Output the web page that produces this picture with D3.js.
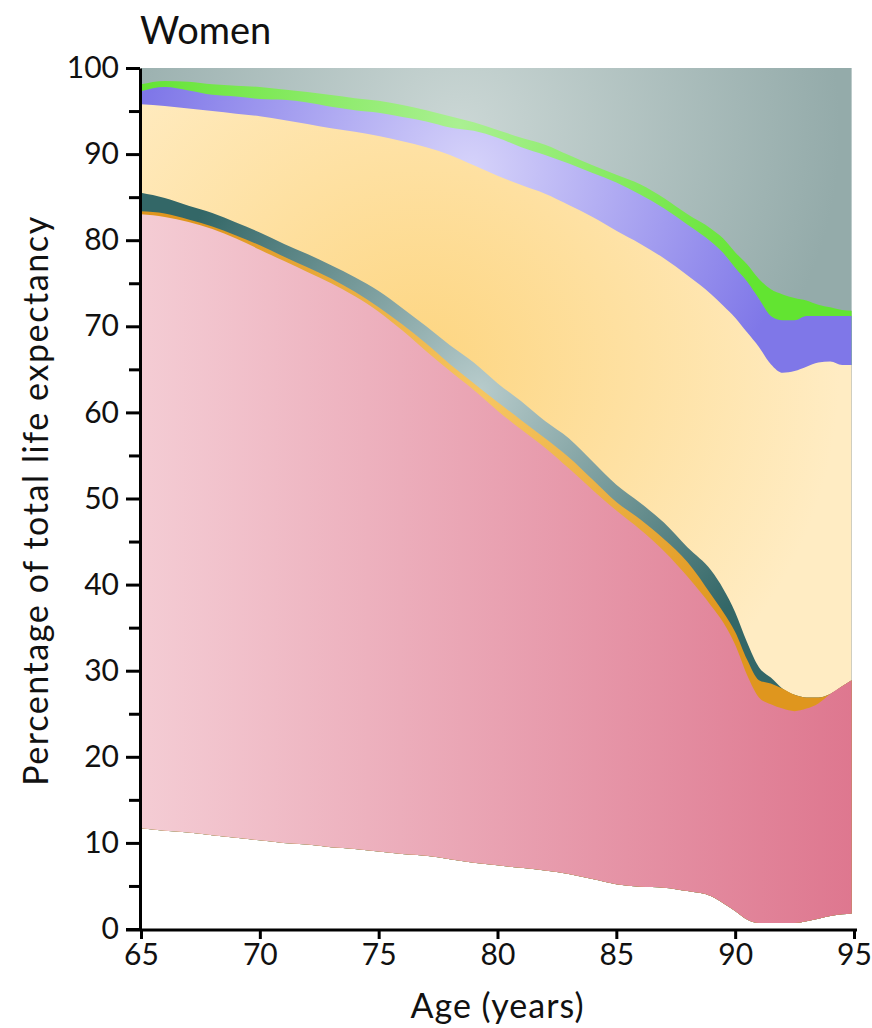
<!DOCTYPE html>
<html>
<head>
<meta charset="utf-8">
<script src="https://cdn.jsdelivr.net/npm/d3@7"></script>
<style>
  body { margin: 0; background: #fff; }
  text { font-family: Lato, "Open Sans", sans-serif; fill: #111; }
</style>
</head>
<body>
<div id="chart"></div>
<script>
// ages sampled along the x axis
const ages = [65, 66, 67, 68, 69, 70, 71, 72, 73, 74, 75, 76, 77, 78, 79, 80, 81, 82, 83, 84, 85, 86, 87, 88, 89,
    89.5, 90, 90.5, 91, 91.5, 92, 92.5, 93, 93.5, 94, 94.5, 94.9];

// cumulative percentage at the top of each band (bottom band first)
const whiteTop = [11.7, 11.4, 11.2, 10.9, 10.6, 10.3, 10.0, 9.8, 9.5, 9.3, 9.0, 8.7, 8.5, 8.1, 7.7, 7.4, 7.1, 6.8, 6.4, 5.8, 5.2, 4.9, 4.8, 4.4, 3.8,
    3.0, 2.1, 1.1, 0.7, 0.7, 0.7, 0.7, 0.9, 1.2, 1.5, 1.7, 1.8];
const pinkTop = [83.0, 82.7, 82.1, 81.3, 80.2, 78.9, 77.6, 76.3, 75.0, 73.5, 71.7, 69.5, 67.1, 64.8, 62.6, 60.2, 58.0, 55.9, 53.5, 51.0, 48.6, 46.4, 43.9, 40.9, 37.5,
    35.6, 33.0, 29.5, 26.9, 26.1, 25.6, 25.3, 25.6, 26.2, 27.3, 28.2, 28.9];
const orangeTop = [83.35, 83.1, 82.4, 81.6, 80.55, 79.4, 78.1, 76.85, 75.55, 74.0, 72.2, 70.2, 68.0, 65.6, 63.4, 61.2, 59.1, 57.0, 54.8, 52.2, 49.6, 47.6, 45.3, 42.6, 38.8,
    36.8, 34.5, 31.3, 28.9, 28.5, 27.9, 27.2, 26.9, 26.9, 27.3, 28.2, 28.9];
const tealTop = [85.5, 84.9, 84.0, 83.15, 82.05, 80.9, 79.6, 78.4, 77.1, 75.7, 74.1, 72.1, 70.0, 67.8, 65.8, 63.4, 61.3, 59.0, 57.0, 54.3, 51.6, 49.5, 47.2, 44.3, 41.6,
    39.5, 36.8, 33.3, 30.4, 29.2, 27.9, 27.2, 26.9, 26.9, 27.3, 28.2, 28.9];
const yellowTop = [95.8, 95.6, 95.3, 95.0, 94.7, 94.4, 93.95, 93.5, 93.0, 92.6, 92.1, 91.5, 90.8, 89.9, 88.7, 87.5, 86.4, 85.4, 84.1, 82.7, 81.1, 79.6, 77.9, 75.9, 73.7,
    72.4, 71.0, 69.3, 67.6, 65.6, 64.6, 64.8, 65.3, 65.8, 65.9, 65.5, 65.5];
const purpleTop = [97.3, 97.8, 97.4, 96.9, 96.7, 96.4, 96.3, 96.0, 95.5, 95.1, 94.8, 94.3, 93.8, 93.1, 92.7, 91.9, 90.8, 89.9, 88.9, 87.8, 86.7, 85.3, 83.7, 81.8, 79.8,
    78.5, 76.8, 75.2, 73.2, 71.2, 70.7, 70.7, 71.2, 71.2, 71.2, 71.2, 71.2];
const greenTop = [98.1, 98.5, 98.4, 98.1, 97.95, 97.8, 97.5, 97.2, 96.85, 96.5, 96.2, 95.7, 95.1, 94.4, 93.7, 92.8, 91.9, 91.1, 89.9, 88.7, 87.6, 86.5, 84.9, 83.0, 81.3,
    80.2, 78.6, 77.2, 75.5, 74.3, 73.7, 73.3, 73.0, 72.5, 72.2, 71.9, 71.8];
const greyTop = [100, 100, 100, 100, 100, 100, 100, 100, 100, 100, 100, 100, 100, 100, 100, 100, 100, 100, 100, 100, 100, 100, 100, 100, 100,
    100, 100, 100, 100, 100, 100, 100, 100, 100, 100, 100, 100];

const xTicks = [65, 70, 75, 80, 85, 90, 95];
const yTicks = [0, 10, 20, 30, 40, 50, 60, 70, 80, 90, 100];
const yMinorTicks = [5, 15, 25, 35, 45, 55, 65, 75, 85, 95];

const width = 872;
const height = 1028;

const svg = d3.select('#chart')
    .append('svg')
    .attr('width', width)
    .attr('height', height);

const x = d3.scaleLinear().domain([65, 95]).range([141, 854]);
const y = d3.scaleLinear().domain([0, 100]).range([929, 68]);

// band fills: radial highlights like the original, pink goes left to right
const defs = svg.append('defs');
function radial(id, cx, cy, r, inner, outer) {
    const g = defs.append('radialGradient')
        .attr('id', id)
        .attr('gradientUnits', 'userSpaceOnUse')
        .attr('cx', cx).attr('cy', cy).attr('r', r);
    g.append('stop').attr('offset', 0).attr('stop-color', inner);
    g.append('stop').attr('offset', 1).attr('stop-color', outer);
}
radial('gGrey', 460, 130, 380, '#cbd7d5', '#94abaa');
radial('gGreen', 460, 125, 330, '#aaf092', '#62e431');
radial('gPurple', 470, 170, 330, '#d6d3fa', '#7f77e8');
radial('gYellow', 420, 370, 420, '#fdd580', '#ffecc3');
radial('gTeal', 480, 390, 330, '#b7cbcb', '#336767');
radial('gOrange', 480, 400, 330, '#f6c662', '#df961e');
const lin = defs.append('linearGradient')
    .attr('id', 'gPink')
    .attr('gradientUnits', 'userSpaceOnUse')
    .attr('x1', x(65)).attr('x2', x(95)).attr('y1', 0).attr('y2', 0);
lin.append('stop').attr('offset', 0).attr('stop-color', '#f4ccd4');
lin.append('stop').attr('offset', 1).attr('stop-color', '#de778f');

// painted from the top band down so neighbours overlap without seams
const bands = [
    { top: greyTop, fill: 'url(#gGrey)' },
    { top: greenTop, fill: 'url(#gGreen)' },
    { top: purpleTop, fill: 'url(#gPurple)' },
    { top: yellowTop, fill: 'url(#gYellow)' },
    { top: tealTop, fill: 'url(#gTeal)' },
    { top: orangeTop, fill: 'url(#gOrange)' },
    { top: pinkTop, fill: 'url(#gPink)' }
];

const area = d3.area()
    .curve(d3.curveMonotoneX)
    .x((d, i) => x(ages[i]))
    .y0((d, i) => y(whiteTop[i]))
    .y1(d => y(d));

svg.append('g')
    .classed('bands', true)
    .selectAll('path')
    .data(bands)
    .enter()
    .append('path')
    .attr('d', d => area(d.top))
    .attr('fill', d => d.fill);

// axes
const yAxis = d3.axisLeft(y)
    .tickValues(yTicks)
    .tickSize(14)
    .tickSizeOuter(0)
    .tickPadding(7);

svg.append('g')
    .classed('y axis', true)
    .attr('transform', `translate(${x(65) - 1},0)`)
    .call(yAxis);

svg.append('g')
    .classed('y minor', true)
    .attr('transform', `translate(${x(65) - 1},0)`)
    .call(d3.axisLeft(y).tickValues(yMinorTicks).tickSize(11).tickFormat(''))
    .select('.domain').remove();

const xAxis = d3.axisBottom(x)
    .tickValues(xTicks)
    .tickSize(9)
    .tickSizeOuter(0)
    .tickPadding(5);

const xAxisG = svg.append('g')
    .classed('x axis', true)
    .attr('transform', `translate(0,${y(0) + 1})`)
    .call(xAxis);

xAxisG.select('.domain').remove();
xAxisG.append('line')
    .attr('x1', x(65) - 15)
    .attr('x2', x(95) + 3)
    .attr('stroke', '#000')
    .attr('stroke-width', 3);

svg.selectAll('.axis path, .axis line, .minor line')
    .attr('stroke', '#000')
    .attr('stroke-width', 3);

svg.selectAll('.axis text')
    .style('font-size', '30px')
    .attr('fill', '#111');

// titles
svg.append('text')
    .attr('x', 140)
    .attr('y', 44)
    .style('font-size', '38px')
    .text('Women');

svg.append('text')
    .attr('transform', `translate(48, ${(y(0) + y(100)) / 2 + 2}) rotate(-90)`)
    .style('font-size', '34px')
    .style('letter-spacing', '1.6px')
    .style('text-anchor', 'middle')
    .text('Percentage of total life expectancy');

svg.append('text')
    .attr('x', (x(65) + x(95)) / 2)
    .attr('y', 1018)
    .style('font-size', '34px')
    .style('letter-spacing', '1px')
    .style('text-anchor', 'middle')
    .text('Age (years)');
</script>
</body>
</html>
